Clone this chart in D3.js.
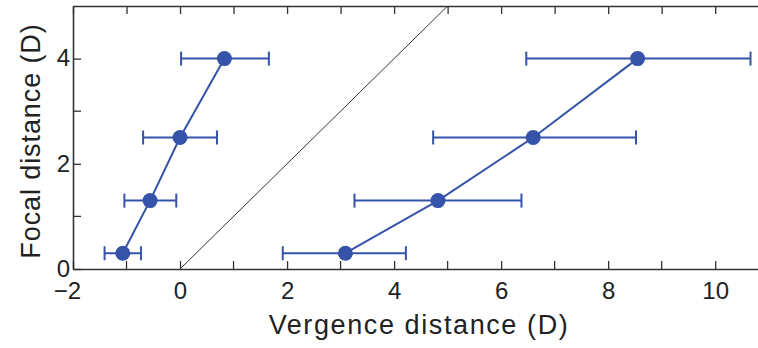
<!DOCTYPE html>
<html>
<head>
<meta charset="utf-8">
<script src="https://cdn.jsdelivr.net/npm/d3@7"></script>
<style>
  html, body { margin: 0; padding: 0; background: #fff; }
  svg { display: block; }
  text { font-family: "Liberation Sans", Arial, Helvetica, sans-serif; fill: #222; }
</style>
</head>
<body>
<svg id="chart" width="758" height="348"></svg>
<script>
// focal distance levels (D)
const focal = [0.3, 1.3, 2.5, 4];

// condition A (left series): vergence mean and error bar ends
const leftMean = [-1.07, -0.56, 0.0, 0.83];
const leftLo = [-1.41, -1.04, -0.69, 0.02];
const leftHi = [-0.73, -0.07, 0.69, 1.66];

// condition B (right series)
const rightMean = [3.09, 4.82, 6.60, 8.55];
const rightLo = [1.92, 3.26, 4.73, 6.47];
const rightHi = [4.22, 6.38, 8.52, 10.66];

const xMajor = [-2, 0, 2, 4, 6, 8, 10];
const xMinor = [-1, 1, 3, 5, 7, 9];
const yMajor = [0, 2, 4];
const yMinor = [1, 3];

const width = 758, height = 348;
const margin = { top: 6, right: 0, bottom: 79, left: 73 };
const BLUE = '#3553a9';
const AXIS = '#333';

const svg = d3.select('#chart');

const x = d3.scaleLinear().domain([-2, 10.8]).range([margin.left, width - margin.right]);
const y = d3.scaleLinear().domain([0, 5]).range([height - margin.bottom, margin.top]);

// --- diagonal reference (vergence = focal) ---
const clipId = 'plot-clip';
svg.append('clipPath').attr('id', clipId)
  .append('rect')
  .attr('x', x(-2)).attr('y', y(5))
  .attr('width', x(10.8) - x(-2)).attr('height', y(0) - y(5));

svg.append('line')
  .attr('clip-path', `url(#${clipId})`)
  .attr('x1', x(0)).attr('y1', y(0))
  .attr('x2', x(6)).attr('y2', y(6))
  .attr('stroke', '#333').attr('stroke-width', 1);

// --- axes ---
const minusFmt = d => d < 0 ? '\u2212' + Math.abs(d) : String(d);
const bottomAxis = d3.axisBottom(x).tickValues(xMajor).tickSizeInner(-8).tickSizeOuter(0).tickPadding(13)
  .tickFormat(minusFmt);
const topAxis = d3.axisTop(x).tickValues(xMajor.concat(xMinor)).tickSizeInner(-8).tickSizeOuter(0).tickFormat('');
const leftAxis = d3.axisLeft(y).tickValues(yMajor).tickSizeInner(-8).tickSizeOuter(0).tickPadding(3)
  .tickFormat(minusFmt);

const gx = svg.append('g').attr('transform', `translate(0,${y(0)})`).call(bottomAxis);
gx.append('g').selectAll('line').data(xMinor).join('line')
  .attr('x1', d => x(d)).attr('x2', d => x(d)).attr('y1', 0).attr('y2', -8);

const gt = svg.append('g').attr('transform', `translate(0,${y(5)})`).call(topAxis);

const gy = svg.append('g').attr('transform', `translate(${x(-2)},0)`).call(leftAxis);
gy.append('g').selectAll('line').data(yMinor).join('line')
  .attr('x1', 0).attr('x2', 8).attr('y1', d => y(d)).attr('y2', d => y(d));

[gx, gt, gy].forEach(g => {
  g.select('.domain').attr('stroke', AXIS).attr('stroke-width', 1.6);
  g.selectAll('line').attr('stroke', AXIS).attr('stroke-width', 1.3);
  g.selectAll('text').attr('font-size', 24).attr('fill', '#222')
    .style('font-family', '"Liberation Sans", Arial, sans-serif');
});
gy.selectAll('.tick text').attr('dy', '0.3em');
// negative labels: keep the digit centred on the tick, the minus sign hangs left
gx.selectAll('.tick text').filter(d => d < 0).attr('dx', '-0.25em');

// --- axis titles ---
svg.append('text')
  .attr('x', 419).attr('y', 334)
  .attr('text-anchor', 'middle').attr('font-size', 27)
  .attr('letter-spacing', 1.6)
  .text('Vergence distance (D)');

svg.append('text')
  .attr('transform', `translate(40,141) rotate(-90)`)
  .attr('text-anchor', 'middle').attr('font-size', 27)
  .attr('letter-spacing', 0.9)
  .text('Focal distance (D)');

// --- data series ---
const series = [
  { mean: leftMean, lo: leftLo, hi: leftHi },
  { mean: rightMean, lo: rightLo, hi: rightHi }
];
const CAP = 7;
const line = d3.line().x(d => x(d[0])).y(d => y(d[1]));

series.forEach(s => {
  const pts = focal.map((f, i) => ({ f, m: s.mean[i], lo: s.lo[i], hi: s.hi[i] }));
  const g = svg.append('g');

  g.selectAll('.err').data(pts).join('line')
    .attr('x1', d => x(d.lo)).attr('x2', d => x(d.hi))
    .attr('y1', d => y(d.f)).attr('y2', d => y(d.f))
    .attr('stroke', BLUE).attr('stroke-width', 2);
  g.selectAll('.capl').data(pts).join('line')
    .attr('x1', d => x(d.lo)).attr('x2', d => x(d.lo))
    .attr('y1', d => y(d.f) - CAP).attr('y2', d => y(d.f) + CAP)
    .attr('stroke', BLUE).attr('stroke-width', 2);
  g.selectAll('.caph').data(pts).join('line')
    .attr('x1', d => x(d.hi)).attr('x2', d => x(d.hi))
    .attr('y1', d => y(d.f) - CAP).attr('y2', d => y(d.f) + CAP)
    .attr('stroke', BLUE).attr('stroke-width', 2);

  g.append('path')
    .datum(pts.map(d => [d.m, d.f]))
    .attr('d', line).attr('fill', 'none')
    .attr('stroke', BLUE).attr('stroke-width', 2);

  g.selectAll('circle').data(pts).join('circle')
    .attr('cx', d => x(d.m)).attr('cy', d => y(d.f)).attr('r', 7.5)
    .attr('fill', BLUE);
});
</script>
</body>
</html>
